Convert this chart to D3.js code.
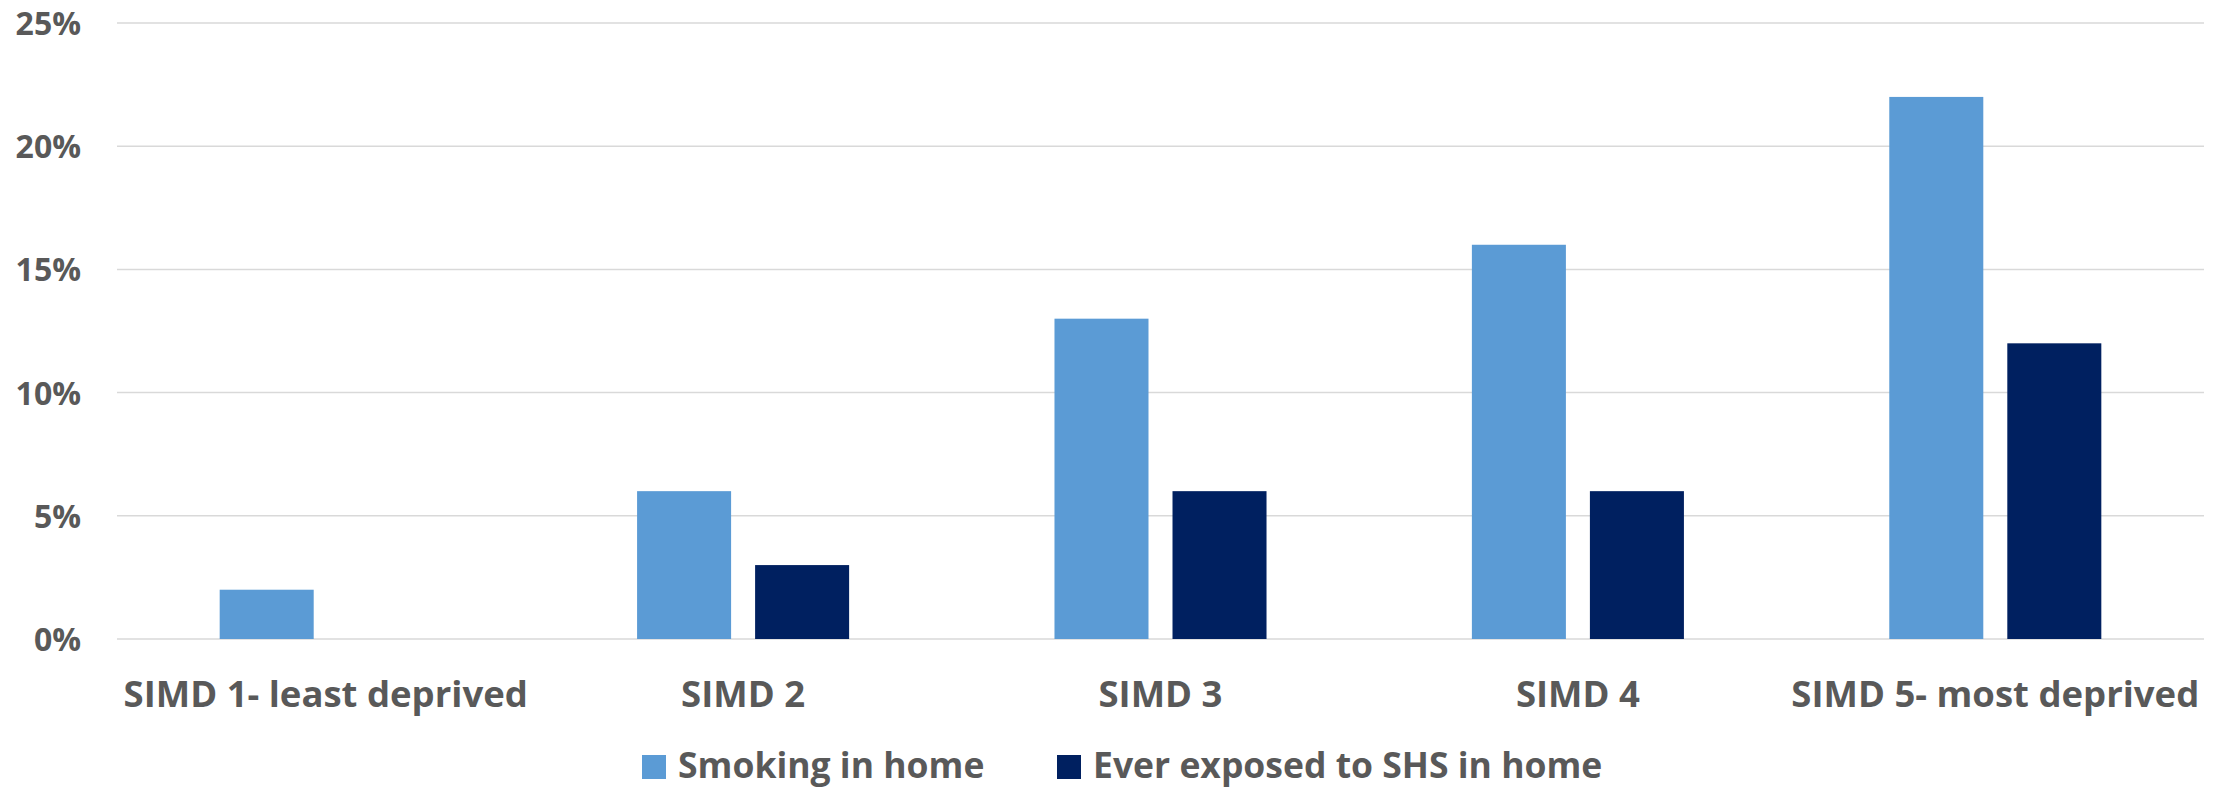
<!DOCTYPE html>
<html>
<head>
<meta charset="utf-8">
<script src="https://cdn.jsdelivr.net/npm/d3@7"></script>
<style>
  html, body { margin: 0; padding: 0; background: #ffffff; }
  svg { display: block; }
  text { font-family: "Open Sans", Lato, sans-serif; font-weight: 700; fill: #595959; }
</style>
</head>
<body>
<script>
const categories = ["SIMD 1- least deprived", "SIMD 2", "SIMD 3", "SIMD 4", "SIMD 5- most deprived"];
const seriesNames = ["Smoking in home", "Ever exposed to SHS in home"];
const smokingInHome = [2, 6, 13, 16, 22];
const exposedSHS = [null, 3, 6, 6, 12];
const yTicks = [0, 5, 10, 15, 20, 25];
const colors = ["#5B9BD5", "#002060"];

const W = 2223, H = 789;
const plot = { left: 117, right: 2204, top: 23, bottom: 639 };

const svg = d3.select("body").append("svg").attr("width", W).attr("height", H);

const x = d3.scaleBand().domain(categories).range([plot.left, plot.right]).paddingInner(0).paddingOuter(0);
const xs = d3.scaleBand().domain(seriesNames).range([0, x.bandwidth()]).paddingInner(0.2034).paddingOuter(0.87);
const y = d3.scaleLinear().domain([0, 25]).range([plot.bottom, plot.top]);

// gridlines
svg.append("g").selectAll("line").data(yTicks).join("line")
  .attr("x1", plot.left).attr("x2", plot.right)
  .attr("y1", d => y(d)).attr("y2", d => y(d))
  .attr("stroke", "#D9D9D9").attr("stroke-width", 1.5);

// y tick labels
const yAxis = d3.axisLeft(y).tickValues(yTicks).tickFormat(d => d + "%").tickSize(0).tickPadding(0);
const yg = svg.append("g").attr("transform", "translate(81,0)").call(yAxis);
yg.select(".domain").remove();
yg.selectAll("text").attr("font-size", 32).attr("font-family", "'Open Sans', sans-serif").attr("font-weight", 700).attr("fill", "#595959").attr("dy", "0.36em");

// bars
const rows = categories.map((c, i) => ({ cat: c, vals: [smokingInHome[i], exposedSHS[i]] }));
const groups = svg.append("g").selectAll("g").data(rows).join("g")
  .attr("transform", d => `translate(${x(d.cat)},0)`);
groups.selectAll("rect")
  .data(d => d.vals.map((v, j) => ({ s: seriesNames[j], v, j })).filter(o => o.v != null))
  .join("rect")
  .attr("x", o => xs(o.s))
  .attr("width", xs.bandwidth())
  .attr("y", o => y(o.v))
  .attr("height", o => y(0) - y(o.v))
  .attr("fill", o => colors[o.j]);

// category labels
svg.append("g").selectAll("text").data(categories).join("text")
  .attr("x", d => x(d) + x.bandwidth() / 2)
  .attr("y", 707)
  .attr("text-anchor", "middle")
  .attr("font-size", 36.5)
  .text(d => d);

// legend
const legendX = [642, 1057];
const lg = svg.append("g").selectAll("g").data(seriesNames).join("g")
  .attr("transform", (d, i) => `translate(${legendX[i]},755)`);
lg.append("rect").attr("width", 24).attr("height", 24).attr("fill", (d, i) => colors[i]);
lg.append("text").attr("x", 36).attr("y", 23).attr("font-size", 35.5).text(d => d);
</script>
</body>
</html>
